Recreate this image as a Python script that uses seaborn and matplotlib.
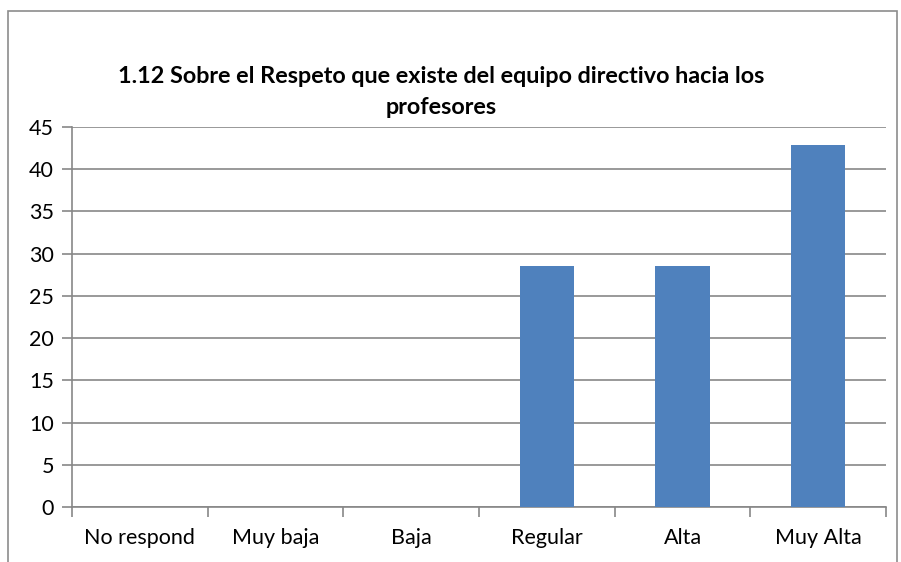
import matplotlib
matplotlib.use("Agg")
import matplotlib.pyplot as plt
import seaborn as sns
import pandas as pd
from matplotlib.patches import Rectangle

categories = ["No respond", "Muy baja", "Baja", "Regular", "Alta", "Muy Alta"]
values = [0, 0, 0, 28.57, 28.57, 42.86]
yticks = [0, 5, 10, 15, 20, 25, 30, 35, 40, 45]
title = "1.12 Sobre el Respeto que existe del equipo directivo hacia los\nprofesores"

sns.set_theme(style="white")
plt.rcParams['font.family'] = ['Lato', 'DejaVu Sans']

W, H = 901, 562
fig = plt.figure(figsize=(W / 100, H / 100), dpi=100)
fig.patch.set_facecolor("white")

# outer chart border
fig.patches.append(Rectangle((8 / W, -0.05), (897 - 8) / W, (H - 11) / H + 0.05,
                             transform=fig.transFigure, fill=False,
                             edgecolor="#8c8c8c", linewidth=1.2))

ax = fig.add_axes([72 / W, (H - 507) / H, (886 - 72) / W, (507 - 127) / H])
df = pd.DataFrame({"cat": categories, "val": values})
sns.barplot(data=df, x="cat", y="val", color="#4F81BD", width=0.4,
            saturation=1, ax=ax, zorder=3, linewidth=0)

ax.set_xlim(-0.5, 5.5)
ax.set_ylim(0, 45)
ax.set_yticks(yticks)
ax.set_yticklabels([str(t) for t in yticks], fontsize=15.5, color="#000000")
ax.set_xticks(range(len(categories)))
ax.set_xticklabels(categories, fontsize=15.5, color="#000000")
ax.set_xticks([i - 0.5 for i in range(len(categories) + 1)], minor=True)
ax.tick_params(axis="x", which="major", bottom=True, length=0, pad=15)
ax.tick_params(axis="x", which="minor", bottom=True, length=7, width=1.2,
               color="#878787", direction="out")
ax.tick_params(axis="y", which="major", left=True, length=7, width=1.2,
               color="#878787", direction="out", pad=6)
ax.set_xlabel("")
ax.set_ylabel("")

ax.yaxis.grid(True, color="#878787", linewidth=1.2, zorder=0)
ax.set_axisbelow(True)
for side in ["top", "right"]:
    ax.spines[side].set_visible(False)
for side in ["left", "bottom"]:
    ax.spines[side].set_color("#878787")
    ax.spines[side].set_linewidth(1.2)

fig.text(441 / W, 1 - 92 / H, title, ha="center", va="center",
         fontsize=16.8, fontweight="bold", linespacing=1.6, color="#000000")

fig.savefig("out.png", dpi=100)
